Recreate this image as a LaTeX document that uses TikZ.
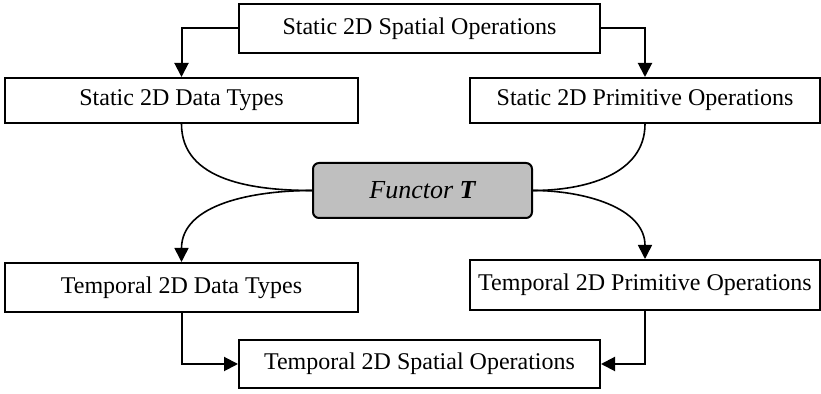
\documentclass[tikz,border=0pt]{standalone}
\usepackage{fontspec}
\setmainfont{Liberation Serif}
\usetikzlibrary{arrows.meta}
\begin{document}
\begin{tikzpicture}[x=0.5pt,y=-0.5pt,
  box/.style={draw,line width=1pt,inner sep=0pt,font=\fontsize{12}{14}\selectfont},
  fbox/.style={draw,line width=1pt,inner sep=0pt,fill=black!25,rounded corners=3pt,font=\fontsize{13}{15}\selectfont\itshape},
  arr/.style={line width=1pt,-{Triangle[length=7pt,width=7pt]}},
  crv/.style={line width=0.8pt}]
\useasboundingbox (0,0) rectangle (821,394);
\node[box,minimum width=180.5pt,minimum height=24.5pt] (sso) at (419.5,28.5) {Static 2D Spatial Operations};
\node[box,minimum width=176.5pt,minimum height=22.5pt] (dt) at (181.5,100.5) {Static 2D Data Types};
\node[box,minimum width=175pt,minimum height=22.5pt] (po) at (645,100.5) {Static 2D Primitive Operations};
\node[fbox,minimum width=109.5pt,minimum height=27.5pt] (fn) at (422.5,190.5) {Functor \textbf{T}};
\node[box,minimum width=176.5pt,minimum height=24.5pt] (tdt) at (181.5,287.5) {Temporal 2D Data Types};
\node[box,minimum width=175pt,minimum height=25pt] (tpo) at (645,285) {Temporal 2D Primitive Operations};
\node[box,minimum width=180.5pt,minimum height=24pt] (tso) at (419.5,364) {Temporal 2D Spatial Operations};
\draw[arr] (sso.west) -| (dt.north);
\draw[arr] (sso.east) -| (po.north);
\draw[crv] (dt.south) to[out=-90,in=180] (fn.west);
\draw[crv] (po.south) to[out=-90,in=0] (fn.east);
\draw[crv,-{Triangle[length=7pt,width=7pt]}] (fn.west) to[out=180,in=90] (tdt.north);
\draw[crv,-{Triangle[length=7pt,width=7pt]}] (fn.east) to[out=0,in=90] (tpo.north);
\draw[arr] (tdt.south) |- (tso.west);
\draw[arr] (tpo.south) |- (tso.east);
\end{tikzpicture}
\end{document}
